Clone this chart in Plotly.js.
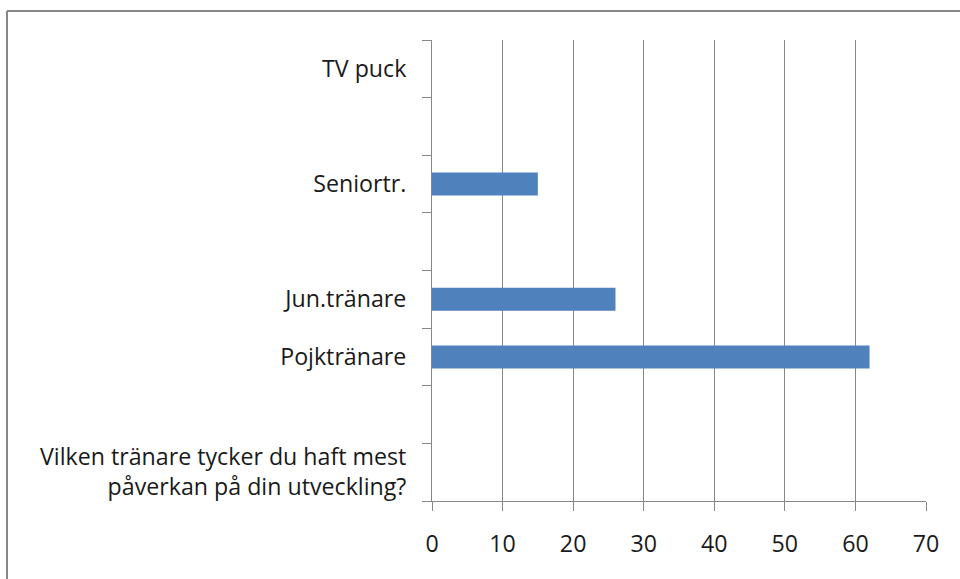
<!DOCTYPE html>
<html>
<head>
<meta charset="utf-8">
<script src="https://cdn.plot.ly/plotly-3.0.1.min.js"></script>
<style>html,body{margin:0;padding:0;background:#fff;overflow:hidden}</style>
</head>
<body>
<div id="chart" style="width:960px;height:579px"></div>
<script>
// Categories from bottom to top (blank rows keep unique non-breaking-space names)
const categories = [
  "Vilken tränare tycker du haft mest<br>påverkan på din utveckling?",
  "\u00a0",
  "Pojktränare",
  "Jun.tränare",
  "\u00a0\u00a0",
  "Seniortr.",
  "\u00a0\u00a0\u00a0",
  "TV puck"
];
const values = [null, null, 62, 26, null, 15, null, 0];
const xTickVals = [0, 10, 20, 30, 40, 50, 60, 70];

const GRAY = '#878787';
const FONT = {family: '"Open Sans", Lato, sans-serif', size: 23.2, color: '#1a1a1a'};

const trace = {
  type: 'bar',
  orientation: 'h',
  x: values,
  y: categories,
  marker: {color: '#4F81BD', line: {width: 0}},
  hoverinfo: 'x+y'
};

const layout = {
  width: 960,
  height: 579,
  margin: {l: 432, r: 34, t: 40, b: 78, pad: 0},
  paper_bgcolor: '#ffffff',
  plot_bgcolor: '#ffffff',
  showlegend: false,
  bargap: 0.6,
  font: FONT,
  xaxis: {
    range: [0, 70],
    tickmode: 'array',
    tickvals: xTickVals,
    ticktext: xTickVals.map(String),
    showgrid: true,
    gridcolor: GRAY,
    gridwidth: 1,
    zeroline: false,
    showline: true,
    linecolor: GRAY,
    linewidth: 1,
    ticks: 'outside',
    ticklen: 9,
    tickcolor: GRAY,
    tickwidth: 1,
    ticklabelstandoff: 13,
    tickfont: FONT,
    fixedrange: true
  },
  yaxis: {
    type: 'category',
    categoryorder: 'array',
    categoryarray: categories,
    tickson: 'boundaries',
    ticks: 'outside',
    ticklen: 9,
    tickcolor: GRAY,
    tickwidth: 1,
    showgrid: false,
    showline: true,
    linecolor: GRAY,
    linewidth: 1,
    ticklabelstandoff: 20,
    tickfont: FONT,
    fixedrange: true
  },
  shapes: [
    {type: 'line', xref: 'paper', yref: 'paper',
     x0: (7 - 432) / 494, x1: (970 - 432) / 494,
     y0: (501 - 11) / 461, y1: (501 - 11) / 461,
     line: {color: GRAY, width: 2}},
    {type: 'line', xref: 'paper', yref: 'paper',
     x0: (7 - 432) / 494, x1: (7 - 432) / 494,
     y0: (501 - 11) / 461, y1: (501 - 600) / 461,
     line: {color: GRAY, width: 2}}
  ]
};

Plotly.newPlot('chart', [trace], layout, {displayModeBar: false, staticPlot: true});
</script>
</body>
</html>
